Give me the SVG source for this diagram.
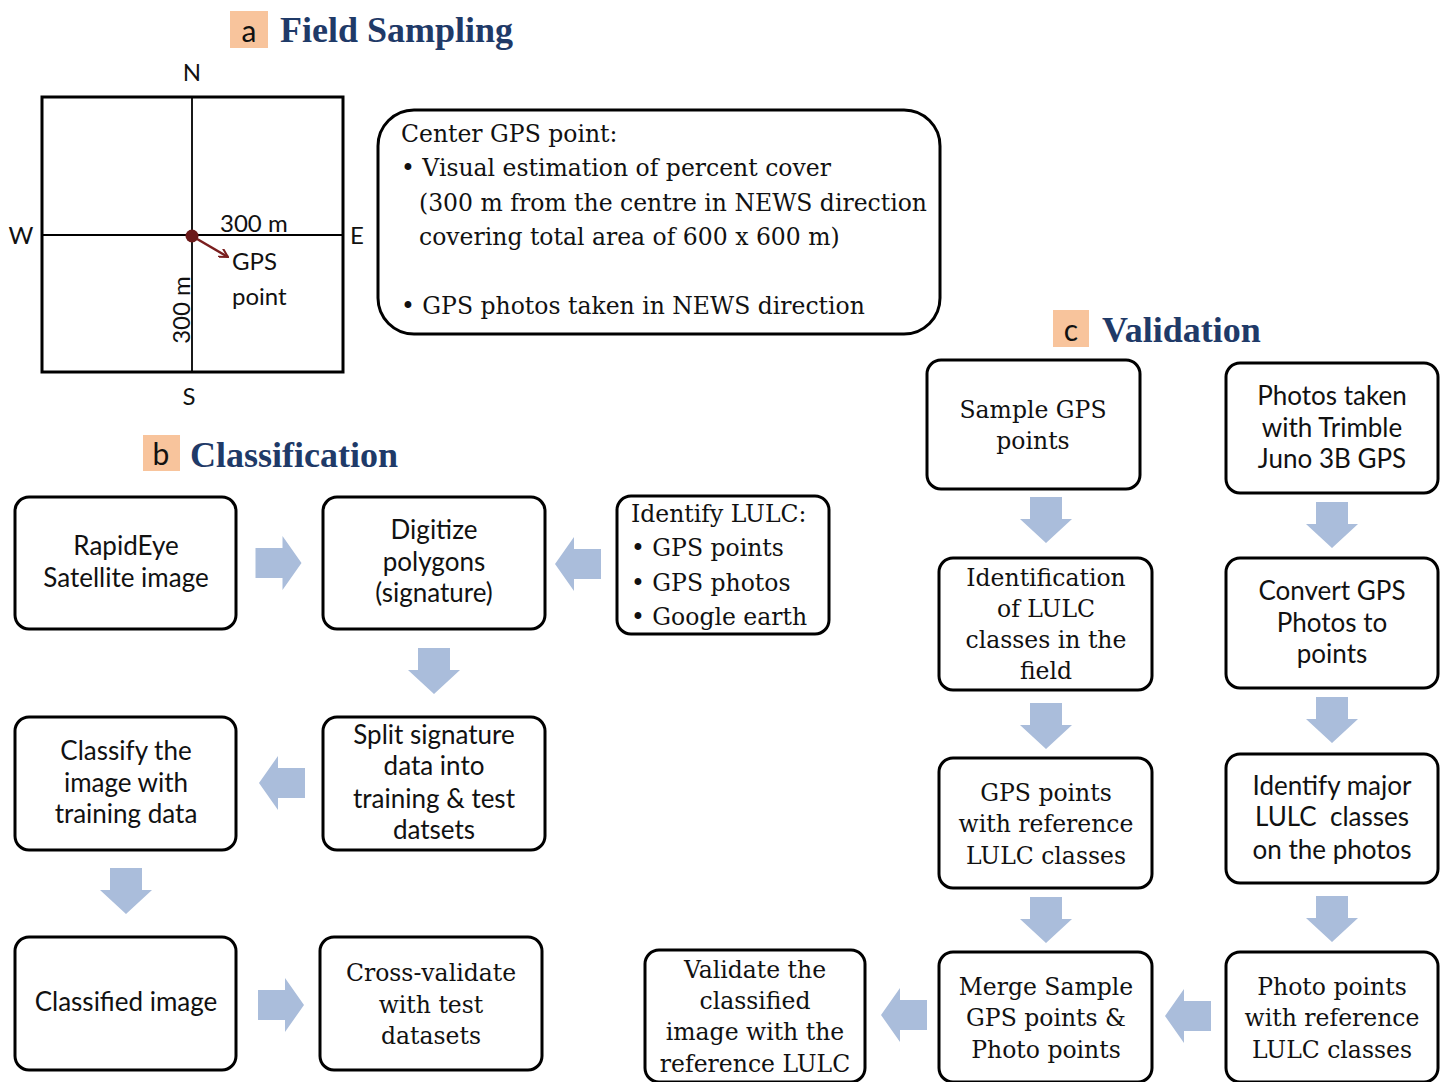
<svg xmlns="http://www.w3.org/2000/svg" xmlns:xlink="http://www.w3.org/1999/xlink" width="1445" height="1082" viewBox="0 0 1445 1082">
<style>
.box{fill:#fff;stroke:#000;stroke-width:3}
.sans{font-family:Lato,"Liberation Sans",sans-serif;font-size:26px;fill:#111;text-anchor:middle}
.serif{font-family:"DejaVu Serif","Liberation Serif",serif;font-size:23.5px;fill:#111;text-anchor:middle}
.serifL{font-family:"DejaVu Serif","Liberation Serif",serif;font-size:23.5px;fill:#111}
.title{font-family:"Liberation Serif",serif;font-weight:bold;font-size:36px;fill:#1f3a68}
.tag{fill:#f8c49c}
.tagt{font-family:Lato,"Liberation Sans",sans-serif;font-size:30px;fill:#111;text-anchor:middle}
.lbl{font-family:Lato,"Liberation Sans",sans-serif;font-size:24px;fill:#111}
.arr{fill:#aabddb}
</style>
<defs>
<path id="ra" d="M-23,-15 H4 V-27 L23,0 L4,27 V15 H-23 Z"/>
<path id="da" d="M-16,-23 V-1 H-26 L0,23 L26,-1 H16 V-23 Z"/>
<marker id="mh" markerWidth="10" markerHeight="10" refX="9" refY="5" orient="auto" markerUnits="userSpaceOnUse"><path d="M0,0 L9,5 L0,10" fill="none" stroke="#7a1e1e" stroke-width="2"/></marker>
</defs>

<g id="title-a">
<rect class="tag" x="230" y="11" width="38" height="37"/>
<text class="tagt" x="249" y="42">a</text>
<text class="title" x="280" y="42">Field Sampling</text>
</g>
<g id="title-b">
<rect class="tag" x="143" y="435" width="37" height="36"/>
<text class="tagt" x="161" y="465">b</text>
<text class="title" x="190" y="467">Classification</text>
</g>
<g id="title-c">
<rect class="tag" x="1053" y="310" width="36" height="37"/>
<text class="tagt" x="1071" y="341">c</text>
<text class="title" x="1102" y="342">Validation</text>
</g>

<g id="plot">
<rect x="42" y="97" width="301" height="275" fill="none" stroke="#000" stroke-width="3"/>
<line x1="192" y1="97" x2="192" y2="372" stroke="#000" stroke-width="1.8"/>
<line x1="42" y1="235" x2="343" y2="235" stroke="#000" stroke-width="1.8"/>
<text class="lbl" x="192" y="81" text-anchor="middle">N</text>
<text class="lbl" x="189" y="405" text-anchor="middle">S</text>
<text class="lbl" x="21" y="244" text-anchor="middle">W</text>
<text class="lbl" x="357" y="244" text-anchor="middle">E</text>
<text class="lbl" x="220" y="232">300 m</text>
<text class="lbl" x="232" y="270">GPS</text>
<text class="lbl" x="232" y="305">point</text>
<text class="lbl" transform="translate(190,310) rotate(-90)" text-anchor="middle">300 m</text>
<line x1="192" y1="236" x2="228" y2="257" stroke="#7a1e1e" stroke-width="2.5" marker-end="url(#mh)"/>
<circle cx="192" cy="236" r="6.5" fill="#6b1a1a"/>
</g>

<g id="note">
<rect class="box" x="378" y="110" width="562" height="224" rx="36"/>
<text class="serifL" x="401" y="142">Center GPS point:</text>
<text class="serifL" x="401" y="176">• Visual estimation of percent cover</text>
<text class="serifL" x="419" y="211">(300 m from the centre in NEWS direction</text>
<text class="serifL" x="419" y="245">covering total area of 600 x 600 m)</text>
<text class="serifL" x="401" y="314">• GPS photos taken in NEWS direction</text>
</g>

<g id="rapideye">
<rect class="box" x="15" y="497" width="221" height="132" rx="14"/>
<text class="sans" x="126" y="555">RapidEye</text>
<text class="sans" x="126" y="587">Satellite image</text>
</g>
<g id="digitize">
<rect class="box" x="323" y="497" width="222" height="132" rx="14"/>
<text class="sans" x="434" y="539">Digitize</text>
<text class="sans" x="434" y="571">polygons</text>
<text class="sans" x="434" y="602">(signature)</text>
</g>
<g id="identify-lulc">
<rect class="box" x="617" y="496" width="212" height="138" rx="14"/>
<text class="serifL" x="631" y="522">Identify LULC:</text>
<text class="serifL" x="631" y="556">• GPS points</text>
<text class="serifL" x="631" y="591">• GPS photos</text>
<text class="serifL" x="631" y="625">• Google earth</text>
</g>
<g id="classify">
<rect class="box" x="15" y="717" width="221" height="133" rx="14"/>
<text class="sans" x="126" y="760">Classify the</text>
<text class="sans" x="126" y="792">image with</text>
<text class="sans" x="126" y="823">training data</text>
</g>
<g id="split">
<rect class="box" x="323" y="717" width="222" height="133" rx="14"/>
<text class="sans" x="434" y="744">Split signature</text>
<text class="sans" x="434" y="775">data into</text>
<text class="sans" x="434" y="808">training &amp; test</text>
<text class="sans" x="434" y="839">datsets</text>
</g>
<g id="classified">
<rect class="box" x="15" y="937" width="221" height="133" rx="14"/>
<text class="sans" x="126" y="1011">Classified image</text>
</g>
<g id="crossval">
<rect class="box" x="320" y="937" width="222" height="133" rx="14"/>
<text class="serif" x="431" y="981">Cross-validate</text>
<text class="serif" x="431" y="1013">with test</text>
<text class="serif" x="431" y="1044">datasets</text>
</g>

<g id="sample-gps">
<rect class="box" x="927" y="360" width="213" height="129" rx="14"/>
<text class="serif" x="1033" y="418">Sample GPS</text>
<text class="serif" x="1033" y="449">points</text>
</g>
<g id="photos-taken">
<rect class="box" x="1226" y="363" width="212" height="130" rx="14"/>
<text class="sans" x="1332" y="405">Photos taken</text>
<text class="sans" x="1332" y="437">with Trimble</text>
<text class="sans" x="1332" y="468">Juno 3B GPS</text>
</g>
<g id="identification">
<rect class="box" x="939" y="558" width="213" height="132" rx="14"/>
<text class="serif" x="1046" y="586">Identification</text>
<text class="serif" x="1046" y="617">of LULC</text>
<text class="serif" x="1046" y="648">classes in the</text>
<text class="serif" x="1046" y="679">field</text>
</g>
<g id="convert">
<rect class="box" x="1226" y="558" width="212" height="130" rx="14"/>
<text class="sans" x="1332" y="600">Convert GPS</text>
<text class="sans" x="1332" y="632">Photos to</text>
<text class="sans" x="1332" y="663">points</text>
</g>
<g id="gps-ref">
<rect class="box" x="939" y="758" width="213" height="130" rx="14"/>
<text class="serif" x="1046" y="801">GPS points</text>
<text class="serif" x="1046" y="832">with reference</text>
<text class="serif" x="1046" y="864">LULC classes</text>
</g>
<g id="identify-major">
<rect class="box" x="1226" y="754" width="212" height="129" rx="14"/>
<text class="sans" x="1332" y="795">Identify major</text>
<text class="sans" x="1332" y="826" xml:space="preserve">LULC  classes</text>
<text class="sans" x="1332" y="859">on the photos</text>
</g>
<g id="validate">
<rect class="box" x="645" y="950" width="220" height="132" rx="14"/>
<text class="serif" x="755" y="978">Validate the</text>
<text class="serif" x="755" y="1009">classified</text>
<text class="serif" x="755" y="1040">image with the</text>
<text class="serif" x="755" y="1072">reference LULC</text>
</g>
<g id="merge">
<rect class="box" x="939" y="952" width="213" height="130" rx="14"/>
<text class="serif" x="1046" y="995">Merge Sample</text>
<text class="serif" x="1046" y="1026">GPS points &amp;</text>
<text class="serif" x="1046" y="1058">Photo points</text>
</g>
<g id="photo-points">
<rect class="box" x="1226" y="952" width="212" height="130" rx="14"/>
<text class="serif" x="1332" y="995">Photo points</text>
<text class="serif" x="1332" y="1026">with reference</text>
<text class="serif" x="1332" y="1058">LULC classes</text>
</g>

<g id="connectors" class="arr">
<use xlink:href="#ra" transform="translate(278.5,563)"/>
<use xlink:href="#ra" transform="translate(578,564) rotate(180)"/>
<use xlink:href="#da" transform="translate(434,671)"/>
<use xlink:href="#ra" transform="translate(282,783) rotate(180)"/>
<use xlink:href="#da" transform="translate(126,891)"/>
<use xlink:href="#ra" transform="translate(281,1005)"/>
<use xlink:href="#da" transform="translate(1046,520)"/>
<use xlink:href="#da" transform="translate(1332,525)"/>
<use xlink:href="#da" transform="translate(1046,726)"/>
<use xlink:href="#da" transform="translate(1332,720)"/>
<use xlink:href="#da" transform="translate(1046,920)"/>
<use xlink:href="#da" transform="translate(1332,919)"/>
<use xlink:href="#ra" transform="translate(904,1015) rotate(180)"/>
<use xlink:href="#ra" transform="translate(1188,1016) rotate(180)"/>
</g>
</svg>
